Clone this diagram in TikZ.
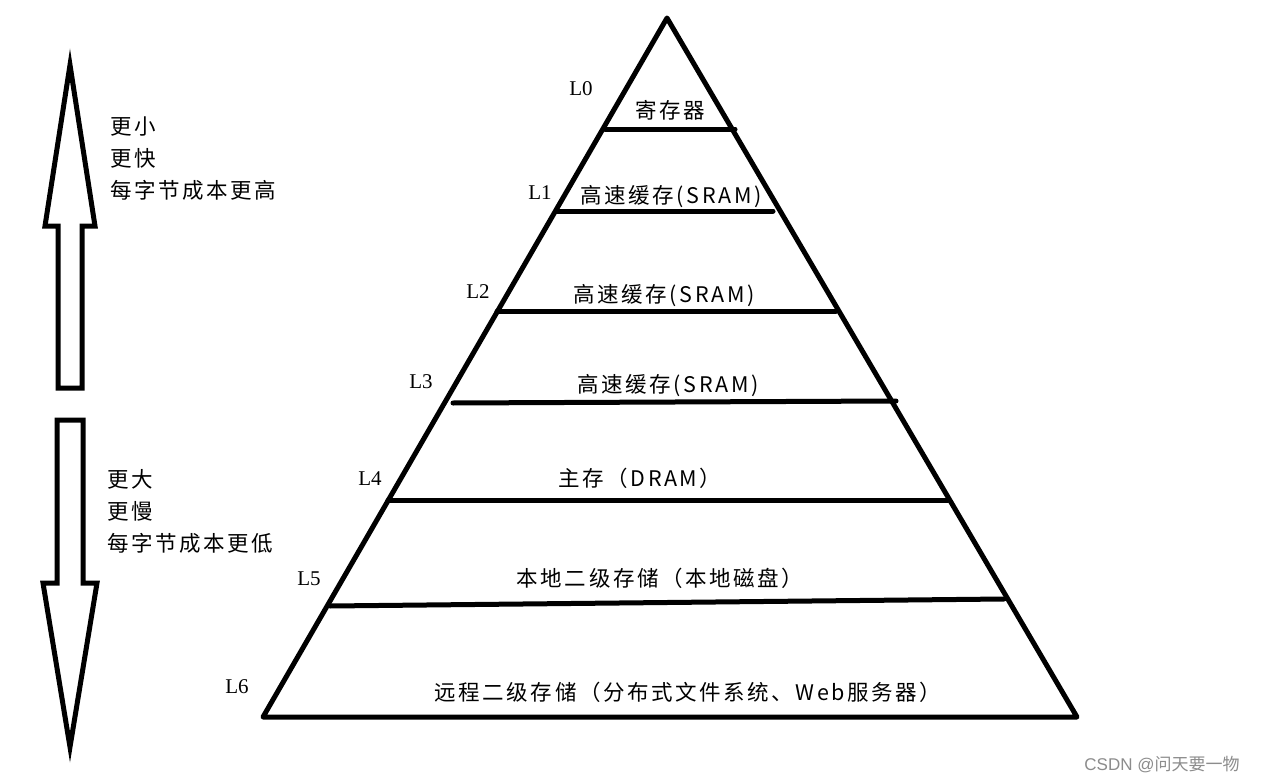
\documentclass[tikz,border=0pt]{standalone}
\usepackage{fontspec}
\newfontfamily\cjk[LetterSpace=12]{Noto Sans CJK SC}
\newfontfamily\lat{Liberation Serif}
\newfontfamily\wm{Liberation Sans}
\begin{document}
\begin{tikzpicture}[x=1pt,y=-1pt,
  thick line/.style={line width=5pt,line join=round,line cap=round},
  lvl/.style={font=\lat\fontsize{21}{24}\selectfont,inner sep=0pt},
  tier/.style={font=\cjk\fontsize{21.5}{24}\selectfont,inner sep=0pt},
  side/.style={font=\cjk\fontsize{21.5}{32}\selectfont,inner sep=0pt,align=left,anchor=north west}]
\useasboundingbox[fill=white] (0,0) rectangle (1262,784);
% pyramid
\coordinate (apex) at (667,18);
\coordinate (bl) at (263,717);
\coordinate (br) at (1077,717);
\draw[thick line] (bl) -- (apex) -- (br) -- cycle;
\coordinate (a0) at (605,129); \coordinate (b0) at (735,129);
\coordinate (a1) at (557,211); \coordinate (b1) at (773,211);
\coordinate (a2) at (497,311); \coordinate (b2) at (836,311);
\coordinate (a3) at (453,403); \coordinate (b3) at (896,401);
\coordinate (a4) at (388,500); \coordinate (b4) at (948,500);
\coordinate (a5) at (330,606); \coordinate (b5) at (1004,599);
\foreach \i in {0,...,5}{\draw[thick line] (a\i) -- (b\i);}
% tier labels
\node[tier] (t0) at (670,110) {寄存器};
\node[tier] (t1) at (671,197) {高速缓存(SRAM)};
\node[tier] (t2) at (664,296) {高速缓存(SRAM)};
\node[tier] (t3) at (668,386) {高速缓存(SRAM)};
\node[tier] (t4) at (640,478) {主存（DRAM）};
\node[tier] (t5) at (660,578) {本地二级存储（本地磁盘）};
\node[tier] (t6) at (688,692) {远程二级存储（分布式文件系统、Web服务器）};
% level names
\node[lvl] (l0) at (581,89) {L0};
\node[lvl] (l1) at (540,193) {L1};
\node[lvl] (l2) at (478,292) {L2};
\node[lvl] (l3) at (421,382) {L3};
\node[lvl] (l4) at (370,479) {L4};
\node[lvl] (l5) at (309,579) {L5};
\node[lvl] (l6) at (237,687) {L6};
% up arrow
\draw[thick line,line cap=butt,line join=miter] (70,65) -- (95,226) -- (82,226) -- (82,388) -- (58,388) -- (58,226) -- (45,226) -- cycle;
% down arrow
\draw[thick line,line cap=butt,line join=miter] (57,420) -- (83,420) -- (83,583) -- (97,583) -- (70,747) -- (43,583) -- (57,583) -- cycle;
% side texts
\node[side] (up) at (110,117) {更小\\更快\\每字节成本更高};
\node[side] (down) at (107,469) {更大\\更慢\\每字节成本更低};
% watermark
\node[font=\wm\fontsize{17}{20}\selectfont,text=black!45,inner sep=0pt] (wm) at (1162,765) {CSDN @{\cjk\addfontfeature{LetterSpace=0}问天要一物}};
\end{tikzpicture}
\end{document}
